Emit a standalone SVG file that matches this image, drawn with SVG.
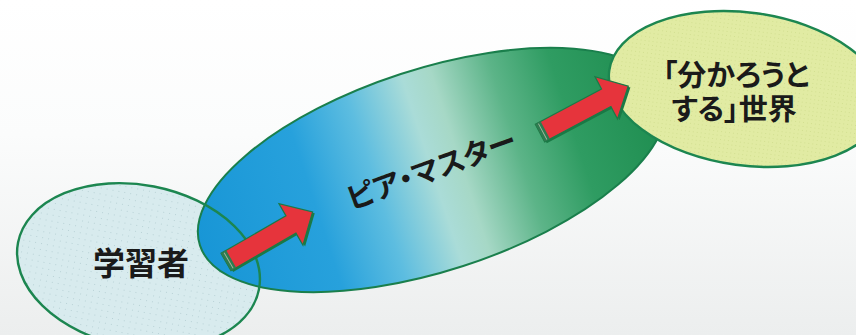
<svg xmlns="http://www.w3.org/2000/svg" xmlns:xlink="http://www.w3.org/1999/xlink" width="856" height="335" viewBox="0 0 856 335">
  <style>
    .lbl { font-family: "Noto Sans CJK JP", "Noto Sans CJK SC", sans-serif; fill: #1a1a1a; font-weight: 700; font-feature-settings: "palt" 1; }
    .outline { fill: none; stroke: #1c8650; stroke-width: 2.4; }
    .arrow-body { fill: #e6343c; stroke: #1a7a46; stroke-width: 1.2; stroke-linejoin: miter; }
    .arrow-shadow { fill: #1a7a46; }
    .arrow-tail { fill: #2d7c50; }
    .arrow-tail-line { stroke: #a9b8a0; stroke-width: 0.9; }
  </style>
  <defs>
    <linearGradient id="bg" x1="0" y1="0" x2="0" y2="1">
      <stop offset="0" stop-color="#ffffff"/>
      <stop offset="0.4" stop-color="#fbfcfc"/>
      <stop offset="1" stop-color="#eceeee"/>
    </linearGradient>
    <linearGradient id="peerGrad" x1="0" y1="0" x2="1" y2="0">
      <stop offset="0" stop-color="#1896d6"/>
      <stop offset="0.25" stop-color="#27a1dc"/>
      <stop offset="0.38" stop-color="#5dbde0"/>
      <stop offset="0.5" stop-color="#aadcd8"/>
      <stop offset="0.56" stop-color="#a6d8c6"/>
      <stop offset="0.68" stop-color="#5cb488"/>
      <stop offset="0.8" stop-color="#2f9c62"/>
      <stop offset="1" stop-color="#1d8c4e"/>
    </linearGradient>
    <pattern id="dots" width="6" height="6" patternUnits="userSpaceOnUse">
      <rect width="6" height="6" fill="#d8ebee"/>
      <rect x="2" y="2" width="1" height="1" fill="#b9d2d6"/>
    </pattern>
    <pattern id="dotsY" width="4" height="4" patternUnits="userSpaceOnUse">
      <rect width="4" height="4" fill="#e1eba3"/>
      <rect x="1" y="1" width="1" height="1" fill="#d2df90"/>
    </pattern>
    <clipPath id="worldClip">
      <ellipse cx="0" cy="0" rx="138" ry="76.5" transform="translate(746,89) rotate(7.7)"/>
    </clipPath>
    <g id="arrow">
      <polygon class="arrow-shadow" points="0,-10 75,-10 75,-24 100,0 75,24 75,10 0,10" transform="translate(1.2,2.2)"/>
      <polygon class="arrow-body" points="0,-10 75,-10 75,-24 100,0 75,24 75,10 0,10"/>
      <rect class="arrow-tail" x="0" y="-10" width="6" height="20"/>
      <line class="arrow-tail-line" x1="3" y1="-9" x2="3" y2="9"/>
    </g>
  </defs>

  <rect width="856" height="335" fill="url(#bg)"/>

  <g id="node-learner-fill">
    <ellipse cx="0" cy="0" rx="122.7" ry="81" transform="translate(138.5,266) rotate(11)" fill="url(#dots)"/>
  </g>

  <g id="node-peer">
    <ellipse cx="0" cy="0" rx="244" ry="101" transform="translate(432,170) rotate(-18)" fill="url(#peerGrad)" stroke="#1a7f4c" stroke-width="2"/>
    <text class="lbl" font-size="29" font-weight="500" text-anchor="middle" transform="translate(432,171) rotate(-20)" x="0" y="9">ピア・マスター</text>
  </g>

  <g id="node-learner">
    <ellipse class="outline" cx="0" cy="0" rx="122.7" ry="81" transform="translate(138.5,266) rotate(11)"/>
    <text class="lbl" font-size="32" text-anchor="middle" x="141" y="275">学習者</text>
  </g>

  <g id="node-world">
    <ellipse cx="0" cy="0" rx="138" ry="76.5" transform="translate(746,89) rotate(7.7)" fill="url(#dotsY)"/>
    <ellipse cx="0" cy="0" rx="244" ry="101" transform="translate(432,170) rotate(-18)" fill="#abca66" clip-path="url(#worldClip)"/>
    <ellipse class="outline" cx="0" cy="0" rx="138" ry="76.5" transform="translate(746,89) rotate(7.7)"/>
    <text class="lbl" font-size="29" font-weight="500" text-anchor="middle" x="736" y="86">「分かろうと</text>
    <text class="lbl" font-size="29" font-weight="500" text-anchor="middle" x="734" y="120">する」世界</text>
  </g>

  <g id="connectors">
    <use xlink:href="#arrow" transform="translate(226,262) rotate(-30)"/>
    <use xlink:href="#arrow" transform="translate(540,133) rotate(-28)"/>
  </g>
</svg>
